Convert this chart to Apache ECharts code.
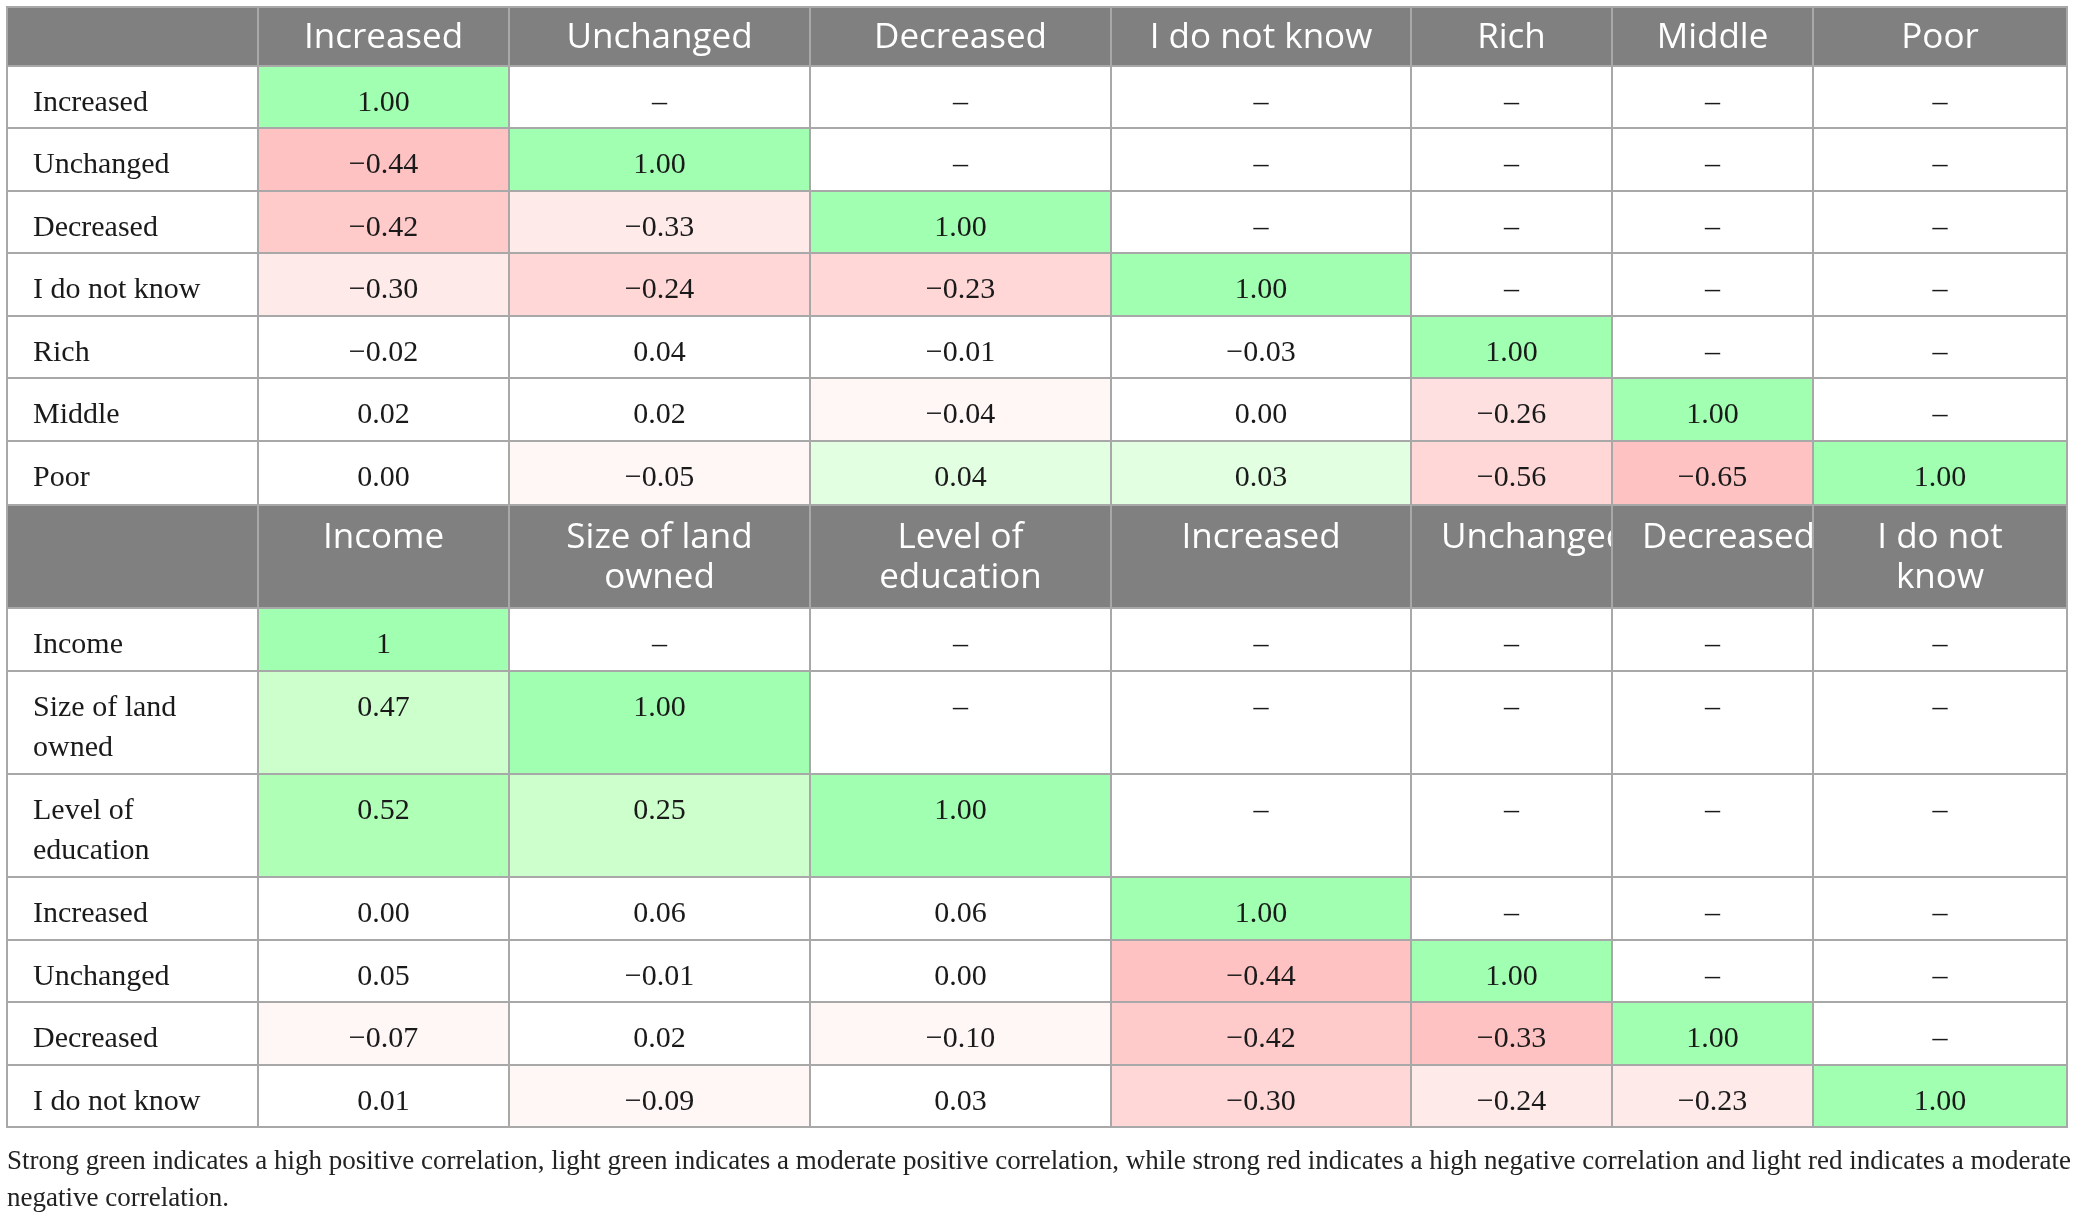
<!DOCTYPE html>
<html><head><meta charset="utf-8">
<script src="https://cdn.jsdelivr.net/npm/echarts@6/dist/echarts.min.js"></script>
<style>html,body{margin:0;padding:0;background:#fff}#c{width:2074px;height:1218px}</style>
</head><body><div id="c"></div>
<script>
// ---------- DATA ----------
const t1Cols = ['Increased','Unchanged','Decreased','I do not know','Rich','Middle','Poor'];
const t1Rows = ['Increased','Unchanged','Decreased','I do not know','Rich','Middle','Poor'];
const t1Values = [
  [1.00],
  [-0.44, 1.00],
  [-0.42, -0.33, 1.00],
  [-0.30, -0.24, -0.23, 1.00],
  [-0.02, 0.04, -0.01, -0.03, 1.00],
  [0.02, 0.02, -0.04, 0.00, -0.26, 1.00],
  [0.00, -0.05, 0.04, 0.03, -0.56, -0.65, 1.00]
];
const t2Cols = ['Income','Size of land\nowned','Level of\neducation','Increased','Unchanged','Decreased','I do not\nknow'];
const t2Rows = ['Income','Size of land\nowned','Level of\neducation','Increased','Unchanged','Decreased','I do not know'];
const t2Values = [
  [1],
  [0.47, 1.00],
  [0.52, 0.25, 1.00],
  [0.00, 0.06, 0.06, 1.00],
  [0.05, -0.01, 0.00, -0.44, 1.00],
  [-0.07, 0.02, -0.10, -0.42, -0.33, 1.00],
  [0.01, -0.09, 0.03, -0.30, -0.24, -0.23, 1.00]
];
const t2IntegerCells = [[0, 0]];
const emptyMark = '\u2013';
const captionLines = [
  'Strong green indicates a high positive correlation, light green indicates a moderate positive correlation, while strong red indicates a high negative correlation and light red indicates a moderate',
  'negative correlation.'
];

// ---------- STYLE (cell shading keys, layout) ----------
const palette = {
  '': '#ffffff', G1: '#a0ffb0', G2: '#afffb6', G3: '#ccffcc', G4: '#e2ffe2',
  R1: '#ffc2c2', R2: '#ffcaca', R3: '#ffd7d7', R4: '#ffe0e0', R5: '#ffeaea', R6: '#fff6f6'
};
const t1Shade = [
  ['G1'],
  ['R1','G1'],
  ['R2','R5','G1'],
  ['R5','R3','R3','G1'],
  ['','','','','G1'],
  ['','','R6','','R4','G1'],
  ['','R6','G4','G4','R3','R1','G1']
];
const t2Shade = [
  ['G1'],
  ['G3','G1'],
  ['G2','G3','G1'],
  ['','','','G1'],
  ['','','','R1','G1'],
  ['R6','','R6','R2','R1','G1'],
  ['','R6','','R3','R5','R5','G1']
];
const colW = [251, 251, 301, 301, 300, 201, 201, 254];
const t1RowH = [59, 62, 63, 62, 63, 62, 63, 64];
const t2RowH = [103, 63, 103, 103, 63, 62, 63, 62];
const headFont = '"Open Sans", sans-serif';
const bodyFont = '"Liberation Serif", "DejaVu Serif", serif';
const headSize = 35, bodySize = 30;

// ---------- BUILD CELLS ----------
const colEdges = [0];
colW.forEach(w => colEdges.push(colEdges[colEdges.length - 1] + w));
const totalW = colEdges[colEdges.length - 1];

const measureCtx = document.createElement('canvas').getContext('2d');
measureCtx.font = headSize + 'px ' + headFont;
function textW(s) { return Math.max(...s.split('\n').map(l => measureCtx.measureText(l).width)); }

function fmt(v) { return (v < 0 ? '\u2212' : '') + Math.abs(v).toFixed(2); }

const cells = [];
function buildTable(cols, rows, values, shade, rowH, yStart, intCells, headTopOffset) {
  const rowEdges = [yStart];
  rowH.forEach(h => rowEdges.push(rowEdges[rowEdges.length - 1] + h));
  for (let c = 0; c <= cols.length; c++) {
    const text = c === 0 ? '' : cols[c - 1];
    const avail = colW[c] - 40;
    cells.push({
      x0: colEdges[c], x1: colEdges[c + 1], y0: rowEdges[0], y1: rowEdges[1],
      fill: '#808080', stroke: '#a8a8a8', text: text, header: true,
      overflow: text && textW(text) > avail, topOff: headTopOffset
    });
  }
  for (let r = 0; r < rows.length; r++) {
    cells.push({
      x0: colEdges[0], x1: colEdges[1], y0: rowEdges[r + 1], y1: rowEdges[r + 2],
      fill: '#ffffff', stroke: '#a8a8a8', text: rows[r], label: true, topOff: 17
    });
    for (let c = 0; c < cols.length; c++) {
      let text = emptyMark, fill = '#ffffff';
      if (c <= r) {
        const v = values[r][c];
        const isInt = intCells.some(p => p[0] === r && p[1] === c);
        text = isInt ? String(v) : fmt(v);
        fill = palette[shade[r][c]];
      }
      cells.push({
        x0: colEdges[c + 1], x1: colEdges[c + 2], y0: rowEdges[r + 1], y1: rowEdges[r + 2],
        fill: fill, stroke: '#a8a8a8', text: text, topOff: 17
      });
    }
  }
  return rowEdges[rowEdges.length - 1];
}
const t1End = buildTable(t1Cols, t1Rows, t1Values, t1Shade, t1RowH, 0, [], 11);
const t2End = buildTable(t2Cols, t2Rows, t2Values, t2Shade, t2RowH, t1End, t2IntegerCells, 13);

// ---------- CHART ----------
const chart = echarts.init(document.getElementById('c'), null, { renderer: 'canvas' });
chart.setOption({
  backgroundColor: '#ffffff',
  animation: false,
  title: {
    text: captionLines.join('\n'), left: 7, top: 1143, padding: 0,
    textStyle: { fontFamily: bodyFont, fontSize: 27, fontWeight: 'normal', color: '#222222', lineHeight: 37 }
  },
  grid: { left: 7, top: 7, width: totalW, height: t2End, containLabel: false },
  xAxis: { type: 'value', min: 0, max: totalW, show: false },
  yAxis: { type: 'value', min: 0, max: t2End, inverse: true, show: false },
  series: [{
    type: 'custom',
    coordinateSystem: 'cartesian2d',
    data: cells.map(d => [d.x0, d.y0, d.x1, d.y1]),
    encode: { x: [0, 2], y: [1, 3] },
    renderItem: function (params, api) {
      const d = cells[params.dataIndex];
      const p0 = api.coord([api.value(0), api.value(1)]);
      const p1 = api.coord([api.value(2), api.value(3)]);
      const w = p1[0] - p0[0], h = p1[1] - p0[1];
      const children = [{
        type: 'rect',
        shape: { x: p0[0], y: p0[1], width: w, height: h },
        style: { fill: d.fill, stroke: d.stroke, lineWidth: 2 }
      }];
      if (d.text) {
        let x, align;
        if (d.label) { x = p0[0] + 26; align = 'left'; }
        else if (d.overflow) { x = p0[0] + 30; align = 'left'; }
        else { x = p0[0] + w / 2; align = 'center'; }
        children.push({
          type: 'text',
          style: {
            text: d.text, x: x, y: p0[1] + d.topOff, align: align, verticalAlign: 'top',
            fill: d.header ? '#ffffff' : '#1a1a1a',
            fontFamily: d.header ? headFont : bodyFont,
            fontSize: d.header ? headSize : bodySize,
            lineHeight: 40
          }
        });
      }
      return { type: 'group', children: children };
    }
  }]
});
</script>
</body></html>
